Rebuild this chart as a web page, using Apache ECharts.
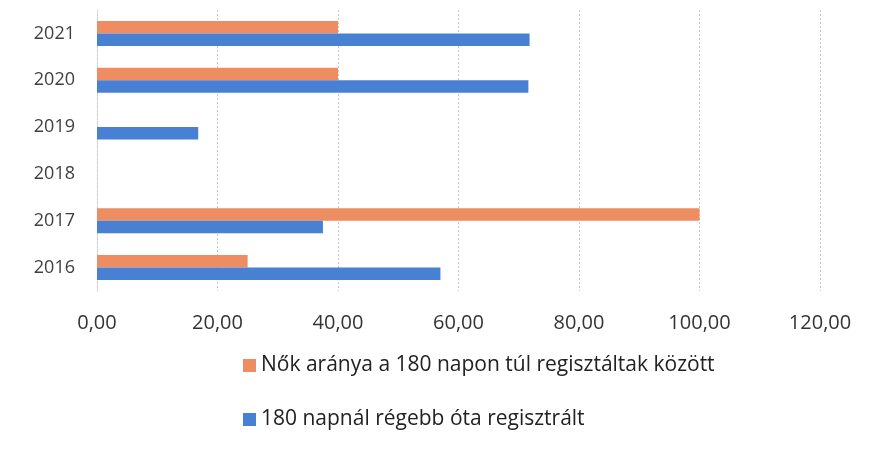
<!DOCTYPE html>
<html><head><meta charset="utf-8">
<script src="https://cdn.jsdelivr.net/npm/echarts@6/dist/echarts.min.js"></script>
<style>html,body{margin:0;padding:0;background:#fff}#c{width:885px;height:457px}</style>
</head><body><div id="c"></div>
<script>
const categories = ['2016','2017','2018','2019','2020','2021'];
const seriesNames = ['Nők aránya a 180 napon túl regisztáltak között','180 napnál régebb óta regisztrált'];
const womenShare = [25, 100, null, null, 40, 40];
const registered180 = [57, 37.5, null, 16.8, 71.6, 71.8];
const xTicks = [0, 20, 40, 60, 80, 100, 120];

const chart = echarts.init(document.getElementById('c'));
chart.setOption({
  animation: false,
  backgroundColor: '#fff',
  grid: {left: 97, right: 65, top: 10, bottom: 166, containLabel: false},
  xAxis: {
    type: 'value', min: xTicks[0], max: xTicks[xTicks.length-1], interval: 20,
    axisLine: {show: false}, axisTick: {show: false},
    splitLine: {show: true, lineStyle: {color: '#c8c8c8', type: [2,2], width: 1}},
    axisLabel: {margin: 22, fontSize: 20, fontFamily: 'Open Sans', color: '#333',
      formatter: v => v.toFixed(2).replace('.', ',')}
  },
  yAxis: {
    type: 'category', data: categories,
    axisLine: {show: true, lineStyle: {color: '#d0d0d0', type: [2,2]}}, axisTick: {show: false},
    axisLabel: {margin: 22, fontSize: 18, fontFamily: 'Open Sans', color: '#404040'}
  },
  legend: {
    orient: 'vertical', left: 238, top: 350, itemGap: 33,
    itemWidth: 13, itemHeight: 13, icon: 'rect',
    textStyle: {fontSize: 21, fontFamily: 'Open Sans', color: '#222'},
    data: seriesNames
  },
  series: [
    {name: seriesNames[0], type: 'bar', data: womenShare, barWidth: 12.5, barGap: '0%',
     itemStyle: {color: '#EE8C62'}},
    {name: seriesNames[1], type: 'bar', data: registered180, barWidth: 12.5, barGap: '0%',
     itemStyle: {color: '#4880D3'}}
  ]
});
</script></body></html>
